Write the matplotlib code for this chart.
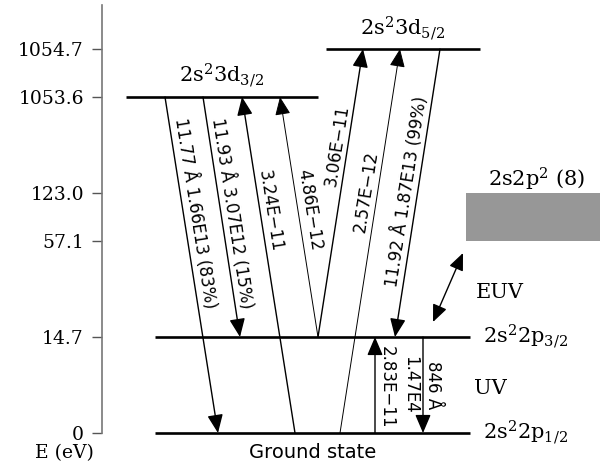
#!/usr/bin/env python

import numpy as np
import matplotlib.pyplot as plt
from matplotlib.patches import FancyArrowPatch, Rectangle

plt.rcParams['mathtext.fontset'] = 'dejavuserif'

# Energy axis (broken scale): tick energies and their slot on the axis
tick_energy = [0, 14.7, 57.1, 123.0, 1053.6, 1054.7]
tick_slot = [0, 2, 4, 5, 7, 8]

# Levels: name -> energy (eV)
level_names = ['g', 'p32', 'd32', 'd52']
level_energy = [0, 14.7, 1053.6, 1054.7]
level_labels = [r'$\mathrm{2s^22p_{1/2}}$', r'$\mathrm{2s^22p_{3/2}}$',
                r'$\mathrm{2s^23d_{3/2}}$', r'$\mathrm{2s^23d_{5/2}}$']

# band of 2s2p2 levels (8 levels) between these energies
band_energy = [57.1, 123.0]

# Transitions: from level, to level, label text, reading direction
tr_from = ['d32', 'd32', 'g', 'p32', 'p32', 'g', 'd52', 'g', 'p32']
tr_to = ['g', 'p32', 'd32', 'd32', 'd52', 'd52', 'p32', 'p32', 'g']
tr_label = ['11.77 Å 1.66E13 (83%)', '11.93 Å 3.07E12 (15%)',
            '3.24E\u221211', '4.86E\u221212', '3.06E\u221211',
            '2.57E\u221212', '11.92 Å 1.87E13 (99%)', '2.83E\u221211',
            '1.47E4']
extra_label = '846 Å'


def epos(e):
    return np.interp(e, tick_energy, tick_slot)


def main():
    fig = plt.figure(figsize=(6, 4.7), dpi=100)
    ax = fig.add_axes([102 / 600, 37 / 470, 498 / 600, 428 / 470])
    ax.set_xlim(102, 600)
    ax.set_ylim(0, 428 / 48)
    for s in ['top', 'right', 'bottom']:
        ax.spines[s].set_visible(False)
    ax.spines['left'].set_color('#777777')
    ax.spines['left'].set_linewidth(1.2)
    ax.set_xticks([])
    ax.set_yticks(epos(tick_energy))
    ax.set_yticklabels(['0' if e == 0 else '%.1f' % e for e in tick_energy],
                       fontfamily='DejaVu Serif', fontsize=13.5)
    ax.tick_params(axis='y', length=7, width=1, color='#555555', pad=6)

    lev = dict(zip(level_names, epos(level_energy)))
    px = lambda p: (433 - p) / 48.0

    # level lines
    spans = {'g': (155, 470), 'p32': (155, 470), 'd32': (126, 318), 'd52': (326, 480)}
    for n in level_names:
        ax.plot(spans[n], [lev[n], lev[n]], color='black', lw=1.9,
                solid_capstyle='butt', clip_on=False)
    ax.text(483, lev['g'], level_labels[0], fontsize=15, ha='left', va='center')
    ax.text(483, lev['p32'], level_labels[1], fontsize=15, ha='left', va='center')
    ax.text(221, lev['d32'] + 7 / 48, level_labels[2], fontsize=15,
            ha='center', va='bottom')
    ax.text(402, lev['d52'] + 6 / 48, level_labels[3], fontsize=15,
            ha='center', va='bottom')

    # 2s2p2 band
    b0, b1 = epos(band_energy)
    ax.add_patch(Rectangle((466, b0), 140, b1 - b0, color='#979797', lw=0,
                           clip_on=False))
    ax.text(537, px(179), r'$\mathrm{2s2p^2\ (8)}$', fontsize=15,
            ha='center', va='center')

    ax.text(500, px(292), 'EUV', fontfamily='DejaVu Serif', fontsize=15,
            ha='center', va='center')
    ax.text(490, px(388), 'UV', fontfamily='DejaVu Serif', fontsize=15,
            ha='center', va='center')
    ax.add_patch(FancyArrowPatch((433, px(322)), (463, px(253)),
                                 arrowstyle='<|-|>,head_length=0.7,head_width=0.3',
                                 mutation_scale=15, lw=1, color='black',
                                 shrinkA=0, shrinkB=0))

    # transition geometry (x on lower/upper level), label position
    x_from = [165, 203, 295, 318, 318, 340, 440, 375, 423]
    x_to = [218, 240, 242, 280, 363, 400, 395, 375, 423]
    t_lab = [0.35, 0.49, 0.345, 0.48, 0.34, 0.375, 0.50, 0.52, 0.5]
    d_lab = [12, 11, 10, 12, 11, 11, 11, 12, -13]
    read = ['down', 'down', 'down', 'down', 'up', 'up', 'up', 'down', 'down']
    lws = [1.0, 1.0, 1.0, 0.7, 1.0, 0.7, 1.0, 1.0, 1.0]

    fig.canvas.draw()
    for i in range(len(tr_from)):
        p0 = (x_from[i], lev[tr_from[i]])
        p1 = (x_to[i], lev[tr_to[i]])
        ax.add_patch(FancyArrowPatch(p0, p1,
                                     arrowstyle='-|>,head_length=0.75,head_width=0.32',
                                     mutation_scale=15, lw=lws[i], color='black',
                                     shrinkA=0, shrinkB=0, clip_on=False))
        # upper and lower points
        up, lo = (p0, p1) if p0[1] > p1[1] else (p1, p0)
        du = ax.transData.transform(up)
        dl = ax.transData.transform(lo)
        if read[i] == 'down':
            ang = np.degrees(np.arctan2(dl[1] - du[1], dl[0] - du[0]))
        else:
            ang = np.degrees(np.arctan2(du[1] - dl[1], du[0] - dl[0]))
        t = t_lab[i]
        xm = up[0] + t * (lo[0] - up[0])
        ym = up[1] + t * (lo[1] - up[1])
        a = np.radians(ang + 90)
        offs = [(d_lab[i], tr_label[i])]
        if i == 8:
            offs.append((10, extra_label))
        for d, lab in offs:
            ax.annotate(lab, xy=(xm, ym), xytext=(d * np.cos(a), d * np.sin(a)),
                        textcoords='offset pixels', rotation=ang,
                        rotation_mode='anchor', ha='center', va='center',
                        fontsize=12, fontfamily='DejaVu Sans')

    ax.text(313, px(452), 'Ground state', fontsize=14, fontfamily='DejaVu Sans',
            ha='center', va='center', clip_on=False)
    fig.text(64 / 600, 1 - 453 / 470, 'E (eV)', fontsize=13.5,
             fontfamily='DejaVu Serif', ha='center', va='center')

    fig.savefig('out.png', dpi=100)


if __name__ == "__main__":
    main()
